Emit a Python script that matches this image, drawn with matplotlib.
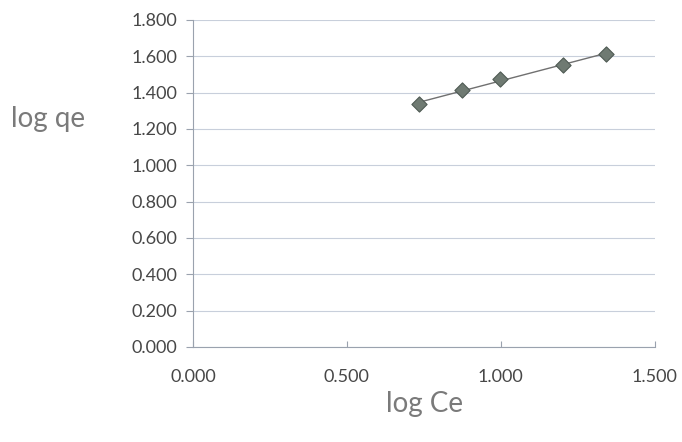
import numpy as np
import matplotlib.pyplot as plt

# data
log_ce = [0.734, 0.873, 0.998, 1.202, 1.343]
log_qe = [1.337, 1.414, 1.473, 1.554, 1.612]

x_ticks = [0.0, 0.5, 1.0, 1.5]
y_ticks = [0.0, 0.2, 0.4, 0.6, 0.8, 1.0, 1.2, 1.4, 1.6, 1.8]

fig = plt.figure(figsize=(6.82, 4.42), dpi=100)
ax = fig.add_axes([0.283, 0.215, 0.677, 0.740])

# linear trend line through the points
k, b = np.polyfit(log_ce, log_qe, 1)
xs = np.array([min(log_ce), max(log_ce)])
ax.plot(xs, k*xs + b, color='#707070', lw=1.0, zorder=3)

ax.scatter(log_ce, log_qe, marker='D', s=60, color='#6f7a72',
           edgecolors='#4f5a54', linewidths=0.8, zorder=4)

ax.set_xlim(0, 1.5)
ax.set_ylim(0, 1.8)
ax.set_xticks(x_ticks)
ax.set_yticks(y_ticks)
ax.set_xticklabels(['%.3f' % v for v in x_ticks])
ax.set_yticklabels(['%.3f' % v for v in y_ticks])

for t in ax.get_xticklabels() + ax.get_yticklabels():
    t.set_fontfamily('Lato')
    t.set_fontsize(13)
    t.set_color('#474747')

ax.grid(axis='y', color='#c8cfdb', lw=0.8)
ax.set_axisbelow(True)
for s in ['top', 'right']:
    ax.spines[s].set_visible(False)
ax.spines['left'].set_color('#9aa2ae')
ax.spines['bottom'].set_color('#9aa2ae')
ax.tick_params(axis='y', length=5, color='#9aa2ae', pad=6)
ax.tick_params(axis='x', length=4, direction='in', color='#9aa2ae', pad=16)

fig.text(0.016, 0.730, 'log qe', fontfamily='Lato',
         fontsize=20, color='#7a7a7a', va='center')
fig.text(0.622, 0.085, 'log Ce', fontfamily='Lato',
         fontsize=20, color='#7a7a7a', ha='center', va='center')

fig.savefig('out.png', dpi=100)
